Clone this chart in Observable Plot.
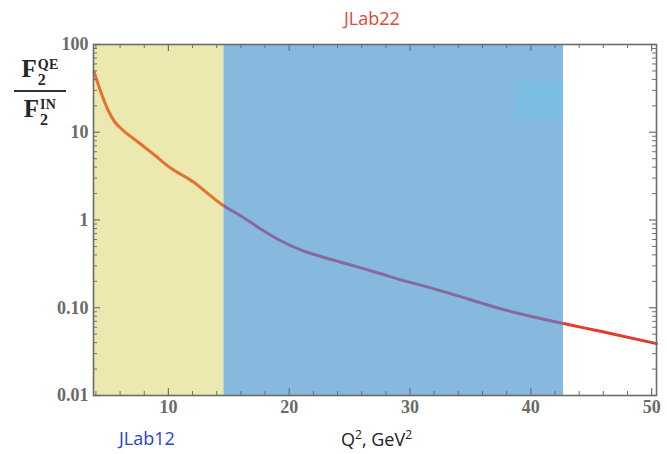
<!DOCTYPE html>
<html>
<head>
<meta charset="utf-8">
<script src="https://cdn.jsdelivr.net/npm/d3@7"></script>
<script src="https://cdn.jsdelivr.net/npm/@observablehq/plot@0.6"></script>
<style>
  html, body { margin: 0; padding: 0; background: #fff; }
  #wrap { position: relative; width: 667px; height: 454px; overflow: hidden; }
  #chart { position: absolute; left: 0; top: 0; }
  .lbl { position: absolute; white-space: nowrap; font-family: "Open Sans", sans-serif; }
  #ylab { position: absolute; left: 14px; top: 55px; width: 52px; font-family: "Liberation Serif", serif; font-weight: bold; color: #262626; text-align: center; }
  #ylab .row { font-size: 25px; line-height: 28px; height: 35px; display: flex; justify-content: center; align-items: flex-start; }
  #ylab .ss { display: inline-flex; flex-direction: column; margin-left: 1px; line-height: 1; }
  #ylab .sup { font-size: 14px; margin-top: 3px; letter-spacing: 0.3px; }
  #ylab .sub { font-size: 16px; margin-top: 0px; text-align: left; }
  #ylab .bar { border-top: 2px solid #333; margin: 0 0 3px 0; }
</style>
</head>
<body>
<div id="wrap">
  <div id="chart"></div>
  <div id="ylab">
    <div class="row">F<span class="ss"><span class="sup">QE</span><span class="sub">2</span></span></div>
    <div class="bar"></div>
    <div class="row">F<span class="ss"><span class="sup">IN</span><span class="sub">2</span></span></div>
  </div>
  <div class="lbl" style="left:344px; top:6px; font-size:18px; color:#e2483a;">JLab22</div>
  <div class="lbl" style="left:119px; top:426px; font-size:18px; color:#2c40d4;">JLab12</div>
  <div class="lbl" style="left:341px; top:426px; font-size:18px; color:#222;">Q<sup style="font-size:12px">2</sup>, GeV<sup style="font-size:12px">2</sup></div>
</div>
<script>
// Curve: Q^2 (GeV^2) and F2_QE / F2_IN
const q2 = [3.86, 4.46, 5.02, 5.58, 6.12, 7.51, 8.90, 10.27, 11.66, 12.22, 13.32, 14.42,
            15.98, 17.64, 19.29, 20.95, 22.61, 24.27, 25.93, 27.59, 29.25, 32.02, 34.79,
            37.55, 40.32, 42.8, 45.85, 50.4];
const ratio = [48.3, 27.4, 17.7, 13.0, 10.9, 7.7, 5.43, 3.83, 2.95, 2.62, 1.97, 1.50,
               1.12, 0.79, 0.58, 0.457, 0.384, 0.330, 0.285, 0.244, 0.208, 0.164, 0.126,
               0.097, 0.078, 0.0656, 0.0536, 0.039];

// Shaded kinematic ranges
const bandNames = ["JLab12", "JLab22"];
const bandStart = [3.8, 14.6];
const bandEnd = [14.6, 42.7];
const bandFill = ["#ece9b0", "#86b9dd"];
// colour of the curve seen inside each range, and outside them
const curveColors = ["#e4722f", "#86699f"];
const curveOutside = "#e5392b";

// faint highlighted patch inside the JLab22 band
const patchX1 = [38.7];
const patchX2 = [42.7];
const patchY1 = [13.6];
const patchY2 = [36.9];

// Ticks
const xMajor = [10, 20, 30, 40, 50];
const xMinor = [4, 6, 8, 12, 14, 16, 18, 22, 24, 26, 28, 32, 34, 36, 38, 42, 44, 46, 48];
const yMajor = [0.01, 0.1, 1, 10, 100];
const yMinor = [0.01, 0.1, 1, 10].flatMap(d => [2,3,4,5,6,7,8,9].map(k => +(d * k).toPrecision(3)));

const curve = q2.map((q, i) => ({q, r: ratio[i]}));
const bands = bandNames.map((name, i) => ({name, x1: bandStart[i], x2: bandEnd[i], fill: bandFill[i]}));
const patches = patchX1.map((x1, i) => ({x1, x2: patchX2[i], y1: patchY1[i], y2: patchY2[i]}));

const W = 667, H = 454;
const mL = 93, mR = 11, mT = 44, mB = 59;
const fw = W - mL - mR, fh = H - mT - mB;
const tickColor = "#6f6f6f";
const lab = {fontFamily: "Liberation Serif", fontWeight: "bold", fontSize: 18};

// gradient with hard stops so one smooth curve changes colour at the band edges
function gradientDefs(index, scales) {
  const defs = d3.create("svg:defs");
  const g = defs.append("linearGradient").attr("id", "curveGrad")
    .attr("gradientUnits", "userSpaceOnUse").attr("x1", 0).attr("x2", W).attr("y1", 0).attr("y2", 0);
  const stops = [];
  let prev = 0;
  bands.forEach((b, i) => {
    const a = scales.x(b.x1) / W, c = scales.x(b.x2) / W;
    stops.push([prev, curveOutside], [a, curveOutside], [a, curveColors[i]], [c, curveColors[i]]);
    prev = c;
  });
  stops.push([prev, curveOutside], [1, curveOutside]);
  stops.forEach(([o, col]) => g.append("stop").attr("offset", Math.max(0, Math.min(1, o))).attr("stop-color", col));
  return defs.node();
}

const chart = Plot.plot({
  width: W, height: H,
  marginLeft: mL, marginRight: mR, marginTop: mT, marginBottom: mB,
  style: {color: "#6a6a6a", background: "transparent"},
  x: {domain: [3.8, 50.4]},
  y: {type: "log", domain: [0.01, 100]},
  marks: [
    Plot.rect(bands, {x1: "x1", x2: "x2", fill: "fill"}),
    Plot.rect(patches, {x1: "x1", x2: "x2", y1: "y1", y2: "y2", fill: "#7cbee1"}),
    gradientDefs,
    Plot.line(curve, {x: "q", y: "r", stroke: "url(#curveGrad)", strokeWidth: 3, curve: "monotone-x"}),
    // inward frame ticks
    Plot.tickX(xMajor, {x: d => d, insetTop: fh - 7, stroke: tickColor, strokeWidth: 1.2}),
    Plot.tickX(xMinor, {x: d => d, insetTop: fh - 4, stroke: tickColor, strokeWidth: 1}),
    Plot.tickX(xMajor, {x: d => d, insetBottom: fh - 7, stroke: tickColor, strokeWidth: 1.2}),
    Plot.tickX(xMinor, {x: d => d, insetBottom: fh - 4, stroke: tickColor, strokeWidth: 1}),
    Plot.tickY(yMajor, {y: d => d, insetRight: fw - 7, stroke: tickColor, strokeWidth: 1.2}),
    Plot.tickY(yMinor, {y: d => d, insetRight: fw - 4, stroke: tickColor, strokeWidth: 1}),
    Plot.tickY(yMajor, {y: d => d, insetLeft: fw - 7, stroke: tickColor, strokeWidth: 1.2}),
    Plot.tickY(yMinor, {y: d => d, insetLeft: fw - 4, stroke: tickColor, strokeWidth: 1}),
    Plot.frame({stroke: "#6b6b6b", strokeWidth: 1.6}),
    Plot.axisX({ticks: xMajor, tickSize: 0, tickPadding: 5, label: null, tickFormat: d => String(d), ...lab}),
    Plot.axisY({ticks: yMajor, tickSize: 0, tickPadding: 5, label: null, tickFormat: d => d >= 1 ? String(d) : d.toFixed(2), ...lab})
  ]
});
document.getElementById("chart").appendChild(chart);
</script>
</body>
</html>
